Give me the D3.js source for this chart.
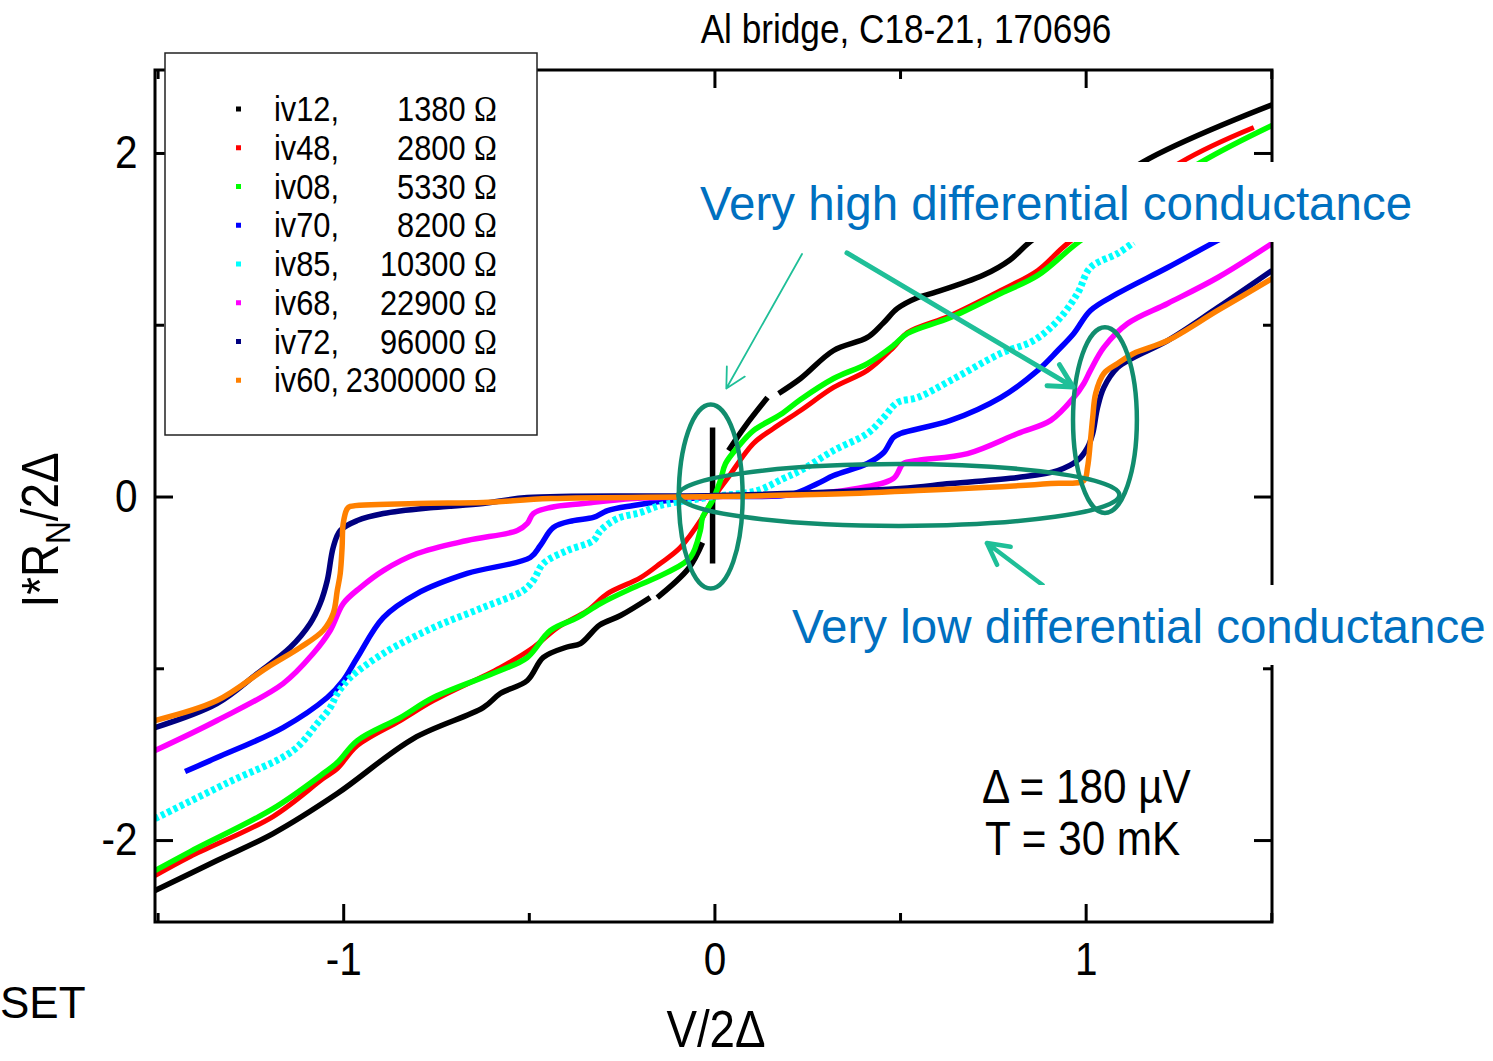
<!DOCTYPE html>
<html>
<head>
<meta charset="utf-8">
<script src="https://cdn.jsdelivr.net/npm/d3@7"></script>
<style>
  body { margin: 0; background: #fff; }
  text { font-family: "Liberation Sans", Arial, sans-serif; fill: #000; }
</style>
</head>
<body>
<svg id="chart" width="1493" height="1061"></svg>
<script>
const iv12 = [[-1.507,-2.294],[-1.340,-2.119],[-1.189,-1.962],[-1.016,-1.729],[-0.811,-1.409],[-0.623,-1.229],
  [-0.577,-1.147],[-0.504,-1.071],[-0.461,-0.937],[-0.397,-0.876],[-0.361,-0.856],[-0.309,-0.748],[-0.253,-0.693],
  [-0.173,-0.588], null, [-0.154,-0.588],[-0.070,-0.419],[-0.032,-0.268], null, [-0.005,-0.390],[-0.005,0.402], null,
  [0.038,0.268],[0.084,0.413],[0.143,0.576], null, [0.173,0.600],[0.232,0.687],[0.321,0.850],[0.412,0.926],
  [0.454,1.008],[0.493,1.095],[0.545,1.156],[0.590,1.185],[0.725,1.289],[0.796,1.377],[0.850,1.482],[1.155,1.948],[1.502,2.280]]

const iv48 = [[-1.507,-2.207],[-1.412,-2.096],[-1.189,-1.863],[-1.054,-1.642],[-1.016,-1.584],[-0.962,-1.450],
  [-0.846,-1.304],[-0.757,-1.188],[-0.577,-0.996],[-0.488,-0.879],[-0.423,-0.763],[-0.342,-0.664],[-0.288,-0.565],
  [-0.199,-0.472],[-0.146,-0.390],[-0.092,-0.297],[-0.032,-0.122],[0.000,0.000],[0.035,0.105],[0.105,0.309],
  [0.159,0.396],[0.232,0.501],[0.321,0.635],[0.412,0.734],[0.482,0.868],[0.520,0.955],[0.636,1.054],[0.771,1.199],
  [0.871,1.316],[0.951,1.473],[1.256,1.945],[1.453,2.148]]

const iv08 = [[-1.507,-2.178],[-1.412,-2.067],[-1.189,-1.817],[-1.054,-1.613],[-1.016,-1.549],[-0.962,-1.421],
  [-0.846,-1.287],[-0.757,-1.170],[-0.577,-1.013],[-0.504,-0.937],[-0.442,-0.780],[-0.369,-0.705],[-0.307,-0.623],
  [-0.218,-0.530],[-0.127,-0.442],[-0.065,-0.355],[-0.038,-0.198],[-0.032,-0.122],[-0.005,-0.023],[0.016,0.093],
  [0.030,0.192],[0.062,0.285],[0.105,0.384],[0.178,0.477],[0.232,0.565],[0.321,0.687],[0.412,0.774],[0.482,0.879],
  [0.520,0.949],[0.636,1.042],[0.771,1.182],[0.871,1.287],[0.987,1.491],[1.310,1.945],[1.502,2.160]]

const iv70 = [[-1.426,-1.601],[-1.340,-1.520],[-1.162,-1.345],[-1.043,-1.170],[-1.000,-1.071],[-0.962,-0.937],
  [-0.892,-0.705],[-0.801,-0.565],[-0.666,-0.448],[-0.496,-0.355],[-0.469,-0.285],[-0.434,-0.180],[-0.380,-0.140],
  [-0.326,-0.122],[-0.288,-0.082],[-0.218,-0.052],[-0.127,-0.023],[-0.030,-0.006],[0.000,0.000],[0.205,0.012],
  [0.278,0.076],[0.321,0.122],[0.412,0.192],[0.456,0.256],[0.482,0.344],[0.501,0.367],[0.636,0.443],[0.771,0.576],
  [0.871,0.734],[0.925,0.850],[0.968,0.949],[1.013,1.083],[1.086,1.182],[1.221,1.333],[1.356,1.491],[1.502,1.654]]

const iv85 = [[-1.507,-1.875],[-1.313,-1.668],[-1.135,-1.479],[-1.070,-1.322],[-1.035,-1.229],[-1.016,-1.147],
  [-0.981,-1.054],[-0.892,-0.914],[-0.757,-0.763],[-0.623,-0.646],[-0.515,-0.547],[-0.488,-0.489],[-0.461,-0.390],
  [-0.396,-0.314],[-0.326,-0.256],[-0.307,-0.198],[-0.261,-0.128],[-0.199,-0.093],[-0.146,-0.052],[0.000,0.000],
  [0.116,0.035],[0.186,0.105],[0.232,0.151],[0.321,0.268],[0.412,0.367],[0.456,0.460],[0.493,0.547],[0.547,0.576],
  [0.636,0.675],[0.771,0.833],[0.860,0.908],[0.925,1.025],[0.978,1.182],[1.013,1.333],[1.086,1.415],[1.129,1.479]]

const iv68 = [[-1.507,-1.479],[-1.340,-1.304],[-1.162,-1.089],[-1.081,-0.914],[-1.035,-0.780],[-1.000,-0.623],
  [-0.954,-0.530],[-0.892,-0.431],[-0.801,-0.332],[-0.666,-0.256],[-0.531,-0.198],[-0.504,-0.157],[-0.488,-0.099],
  [-0.442,-0.064],[-0.353,-0.041],[-0.218,-0.012],[0.000,0.000],[0.232,0.012],[0.367,0.041],[0.482,0.105],
  [0.509,0.192],[0.547,0.210],[0.682,0.250],[0.817,0.367],[0.906,0.443],[0.968,0.576],[0.995,0.658],[1.013,0.734],
  [1.049,0.868],[1.113,1.007],[1.221,1.124],[1.356,1.275],[1.502,1.473]]

const iv72 = [[-1.507,-1.345],[-1.340,-1.205],[-1.232,-1.031],[-1.143,-0.879],[-1.089,-0.739],[-1.062,-0.623],
  [-1.043,-0.489],[-1.027,-0.297],[-1.008,-0.198],[-0.962,-0.140],[-0.892,-0.099],[-0.757,-0.064],[-0.623,-0.041],
  [-0.504,-0.006],[0.000,0.006],[0.501,0.047],[0.636,0.076],[0.817,0.111],[0.925,0.151],[0.978,0.210],[1.005,0.285],
  [1.019,0.367],[1.032,0.518],[1.049,0.635],[1.086,0.751],[1.129,0.809],[1.221,0.908],[1.356,1.100],[1.502,1.316]]

const iv60 = [[-1.507,-1.304],[-1.340,-1.188],[-1.205,-0.996],[-1.116,-0.879],[-1.054,-0.780],[-1.027,-0.681],
  [-1.016,-0.547],[-1.008,-0.448],[-1.003,-0.297],[-1.000,-0.157],[-0.989,-0.070],[-0.981,-0.058],[-0.801,-0.041],
  [-0.623,-0.035],[-0.442,-0.012],[0.000,0.000],[0.367,0.017],[0.547,0.035],[0.725,0.052],[0.906,0.076],[0.995,0.093],
  [1.005,0.169],[1.013,0.326],[1.019,0.460],[1.027,0.600],[1.049,0.716],[1.086,0.774],[1.129,0.833],[1.221,0.908],
  [1.356,1.083],[1.502,1.269]]

const names = ['iv12', 'iv48', 'iv08', 'iv70', 'iv85', 'iv68', 'iv72', 'iv60']
const resistances = ['1380', '2800', '5330', '8200', '10300', '22900', '96000', '2300000']
const curves = [iv12, iv48, iv08, iv70, iv85, iv68, iv72, iv60]

const xTicks = [-1, 0, 1]
const xMinorTicks = [-1.5, -0.5, 0.5, 1.5]
const yTicks = [-2, 0, 2]
const yMinorTicks = [-1, 1]

const colors = ['#000000', '#ff0000', '#00ff00', '#0000ff', '#00ffff', '#ff00ff', '#000080', '#ff8000']
const squeeze = 0.88 // the original figure text is horizontally narrowed

const svg = d3.select('#chart')

const x = d3.scaleLinear().domain([-1.507, 1.502]).range([155, 1272])
const y = d3.scaleLinear().domain([-2.477, 2.483]).range([922, 70])

svg.append('clipPath').attr('id', 'plot-clip')
  .append('rect')
  .attr('x', x.range()[0]).attr('y', y.range()[1])
  .attr('width', x.range()[1] - x.range()[0])
  .attr('height', y.range()[0] - y.range()[1])

// curves, in legend order (later ones on top)
const line = d3.line()
  .defined(d => d !== null)
  .x(d => x(d[0]))
  .y(d => y(d[1]))
  .curve(d3.curveCatmullRom.alpha(0.5))

svg.append('g')
  .attr('clip-path', 'url(#plot-clip)')
  .selectAll('path')
  .data(curves)
  .enter()
  .append('path')
  .attr('d', line)
  .attr('fill', 'none')
  .attr('stroke', (d, i) => colors[i])
  .attr('stroke-width', (d, i) => (i === 4 ? 7 : i === 1 ? 5 : 5.5))
  .attr('stroke-dasharray', (d, i) => (i === 4 ? '4 3' : null))
  .attr('stroke-linejoin', 'round')

// frame + ticks on all four sides, pointing inward
svg.append('rect')
  .attr('x', x.range()[0]).attr('y', y.range()[1])
  .attr('width', x.range()[1] - x.range()[0])
  .attr('height', y.range()[0] - y.range()[1])
  .attr('fill', 'none')
  .attr('stroke', '#000')
  .attr('stroke-width', 3)

function styleAxis(g) {
  g.select('.domain').remove()
  g.attr('font-size', null).attr('font-family', null)
  g.selectAll('.tick line').attr('stroke-width', 3)
  g.selectAll('.tick text')
    .style('font-size', '46px')
    .attr('transform', `scale(${squeeze},1)`)
}

const xAxis = svg.append('g').attr('transform', 'translate(0,922)')
  .call(d3.axisBottom(x).tickValues(xTicks).tickSize(-18).tickPadding(20).tickFormat(d3.format('d')))
  .call(styleAxis)
xAxis.selectAll('.tick text').text(d => (d < 0 ? '-' + Math.abs(d) : d))

svg.append('g').attr('transform', 'translate(0,922)')
  .call(d3.axisBottom(x).tickValues(xMinorTicks).tickSize(-9).tickFormat(''))
  .call(styleAxis)
svg.append('g').attr('transform', 'translate(0,70)')
  .call(d3.axisTop(x).tickValues(xTicks).tickSize(-18).tickFormat(''))
  .call(styleAxis)
svg.append('g').attr('transform', 'translate(0,70)')
  .call(d3.axisTop(x).tickValues(xMinorTicks).tickSize(-9).tickFormat(''))
  .call(styleAxis)

const yAxis = svg.append('g').attr('transform', 'translate(155,0)')
  .call(d3.axisLeft(y).tickValues(yTicks).tickSize(-18).tickPadding(20))
  .call(styleAxis)
yAxis.selectAll('.tick text').text(d => (d < 0 ? '-' + Math.abs(d) : d))

svg.append('g').attr('transform', 'translate(155,0)')
  .call(d3.axisLeft(y).tickValues(yMinorTicks).tickSize(-9).tickFormat(''))
  .call(styleAxis)
svg.append('g').attr('transform', 'translate(1272,0)')
  .call(d3.axisRight(y).tickValues(yTicks).tickSize(-18).tickFormat(''))
  .call(styleAxis)
svg.append('g').attr('transform', 'translate(1272,0)')
  .call(d3.axisRight(y).tickValues(yMinorTicks).tickSize(-9).tickFormat(''))
  .call(styleAxis)

function addText(str, tx, ty, size, k, anchor) {
  return svg.append('text')
    .attr('transform', `translate(${tx},${ty}) scale(${k},1)`)
    .attr('text-anchor', anchor || 'start')
    .style('font-size', size + 'px')
    .text(str)
}

// titles
addText('Al bridge, C18-21, 170696', 906, 43, 40, squeeze, 'middle')
addText('V/2Δ', 716, 1047, 52, squeeze, 'middle')
addText('SET', 0, 1018, 44, 1)

const yTitle = svg.append('text')
  .attr('transform', `translate(58,530) rotate(-90) scale(${squeeze},1)`)
  .attr('text-anchor', 'middle')
  .style('font-size', '52px')
yTitle.append('tspan').text('I*R')
yTitle.append('tspan').attr('dy', 12).style('font-size', '36px').text('N')
yTitle.append('tspan').attr('dy', -12).text('/2Δ')

addText('Δ = 180 µV', 982, 803, 48, squeeze)
addText('T = 30 mK', 985, 855, 48, squeeze)

// legend
const legend = svg.append('g')
legend.append('rect')
  .attr('x', 165).attr('y', 53).attr('width', 372).attr('height', 382)
  .attr('fill', '#fff').attr('stroke', '#222').attr('stroke-width', 1.5)

const rows = legend.selectAll('.row')
  .data(names)
  .enter()
  .append('g')
  .attr('class', 'row')
  .attr('transform', (d, i) => `translate(0,${109 + i * 38.75})`)

rows.append('rect')
  .attr('x', 236).attr('y', -2.5).attr('width', 5).attr('height', 5)
  .attr('fill', (d, i) => colors[i])

rows.append('text')
  .attr('transform', `translate(274,12) scale(${squeeze},1)`)
  .style('font-size', '35px')
  .text(d => d + ',')

const val = rows.append('text')
  .attr('transform', `translate(497,12) scale(${squeeze},1)`)
  .attr('text-anchor', 'end')
  .style('font-size', '35px')
val.append('tspan').text((d, i) => resistances[i] + ' ')
val.append('tspan').style('font-family', '"Liberation Serif", "Times New Roman", serif').text('Ω')

// annotations
const teal = '#118d6e'
const mint = '#1fbf98'
const ann = svg.append('g').attr('fill', 'none')

function ellipse(cv, ci, rv, ri) {
  ann.append('ellipse')
    .attr('cx', x(cv)).attr('cy', y(ci))
    .attr('rx', x(cv + rv) - x(cv)).attr('ry', y(ci) - y(ci + ri))
    .attr('stroke', teal).attr('stroke-width', 4.5)
}
ellipse(-0.01, 0.0, 0.086, 0.536)
ellipse(0.497, 0.009, 0.594, 0.180)
ellipse(1.052, 0.445, 0.086, 0.541)

function arrow(from, to, width, head) {
  const x1 = x(from[0]), y1 = y(from[1]), x2 = x(to[0]), y2 = y(to[1])
  const a = Math.atan2(y2 - y1, x2 - x1)
  const spread = 28 * Math.PI / 180
  const p = d3.path()
  p.moveTo(x1, y1)
  p.lineTo(x2, y2)
  p.moveTo(x2 - head * Math.cos(a - spread), y2 - head * Math.sin(a - spread))
  p.lineTo(x2, y2)
  p.lineTo(x2 - head * Math.cos(a + spread), y2 - head * Math.sin(a + spread))
  ann.append('path')
    .attr('d', p.toString())
    .attr('stroke', mint).attr('stroke-width', width)
    .attr('stroke-linecap', 'round').attr('stroke-linejoin', 'round')
}

// white text boxes of the notes sit over the frame
svg.append('rect').attr('x', 690).attr('y', 162).attr('width', 740).attr('height', 80).attr('fill', '#fff')
svg.append('rect').attr('x', 780).attr('y', 585).attr('width', 713).attr('height', 80).attr('fill', '#fff')

arrow([0.236, 1.412], [0.032, 0.629], 1.8, 22)
arrow([0.357, 1.418], [0.966, 0.638], 5, 26)
arrow([0.884, -0.515], [0.734, -0.271], 4.5, 24)

svg.append('text').attr('x', 700).attr('y', 220)
  .style('font-size', '47.5px').style('fill', '#0070c0')
  .text('Very high differential conductance')
svg.append('text').attr('x', 792).attr('y', 643)
  .style('font-size', '47.5px').style('fill', '#0070c0')
  .text('Very low differential conductance')
</script>
</body>
</html>
